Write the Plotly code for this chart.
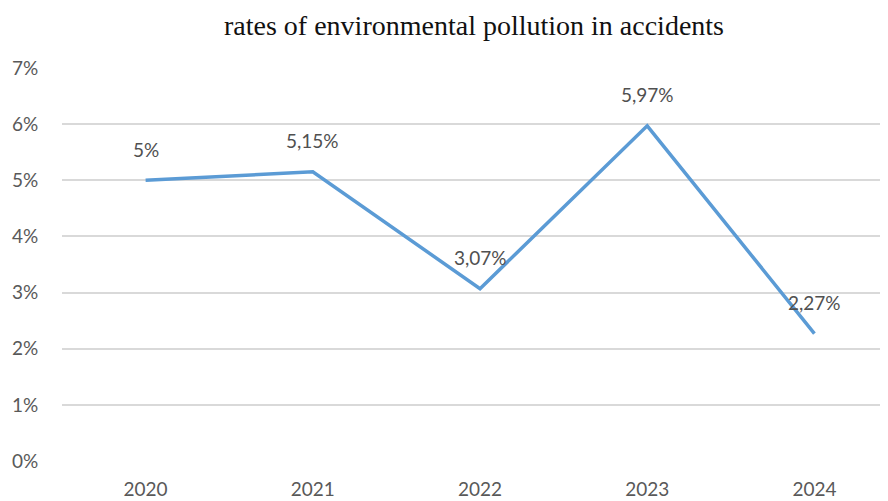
import plotly.graph_objects as go

years = ["2020", "2021", "2022", "2023", "2024"]
rates = [5.0, 5.15, 3.07, 5.97, 2.27]
labels = ["5%", "5,15%", "3,07%", "5,97%", "2,27%"]
y_ticks = [0, 1, 2, 3, 4, 5, 6, 7]
y_tick_text = ["0%", "1%", "2%", "3%", "4%", "5%", "6%", "7%"]

FONT = "Lato, Open Sans, sans-serif"

fig = go.Figure()
fig.add_trace(go.Scatter(
    x=list(range(len(years))), y=rates, mode="lines",
    line=dict(color="#5B9BD5", width=3.5), hoverinfo="skip",
))
for i, (v, t) in enumerate(zip(rates, labels)):
    fig.add_annotation(x=i, y=v, text=t, showarrow=False, yshift=31,
                       font=dict(family=FONT, size=19, color="#505050"))

fig.update_layout(
    width=880, height=493,
    margin=dict(l=54, r=0, t=60, b=40),
    paper_bgcolor="white", plot_bgcolor="white",
    showlegend=False,
    title=dict(text="rates of environmental pollution in accidents",
               x=466/880, xanchor="center", y=1 - 17/493, yanchor="middle",
               font=dict(family="Liberation Serif, Times New Roman, serif", size=28, color="#111111")),
    xaxis=dict(range=[-0.5, 4.44], tickmode="array", tickvals=list(range(len(years))),
               ticktext=years, showgrid=False, zeroline=False, showline=False,
               ticks="outside", ticklen=11, tickcolor="rgba(0,0,0,0)",
               tickfont=dict(family=FONT, size=19, color="#595959")),
    yaxis=dict(range=[0, 7], tickmode="array", tickvals=y_ticks, ticktext=y_tick_text,
               showgrid=True, gridcolor="#d9d9d9", gridwidth=1.5, zeroline=False,
               showline=False, ticks="outside", ticklen=19, tickcolor="rgba(0,0,0,0)",
               tickfont=dict(family=FONT, size=19, color="#595959")),
)

fig.write_html("out.html")
